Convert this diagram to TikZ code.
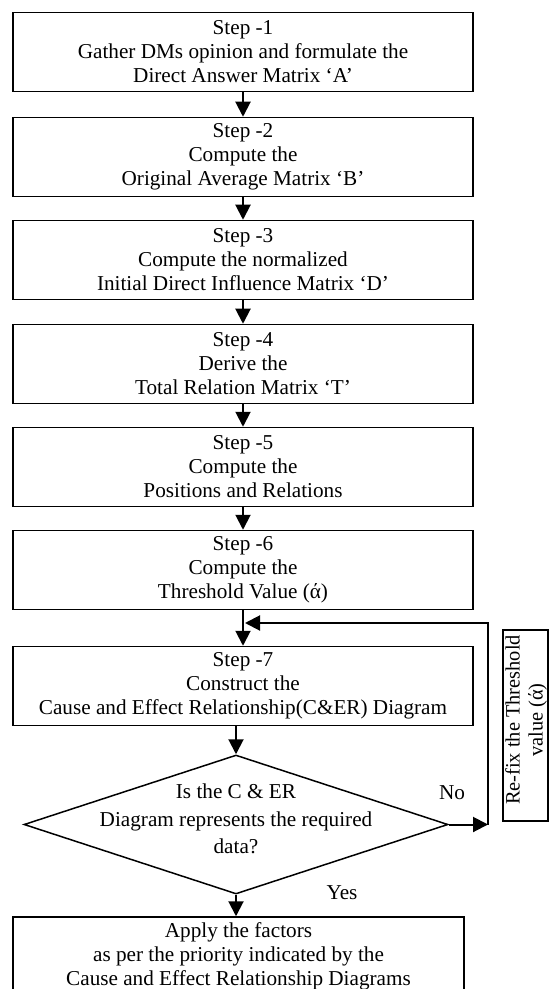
\documentclass[tikz,border=0pt]{standalone}
\usepackage{fontspec}
\setmainfont{Liberation Serif}
\usetikzlibrary{shapes.geometric,arrows.meta,positioning,calc}

\begin{document}
\begin{tikzpicture}[x=0.5pt, y=-0.5pt,
    stepbox/.style={rectangle, draw, line width=0.75pt, minimum width=230pt,
        minimum height=39.5pt, align=center, inner sep=1pt,
        font=\fontsize{10.6}{12}\selectfont},
    decision/.style={diamond, draw, line width=0.75pt, minimum width=212pt,
        minimum height=69.5pt, inner sep=0pt},
    sidebox/.style={rectangle, draw, line width=0.75pt, minimum width=22.5pt,
        minimum height=95.5pt, inner sep=0pt},
    txt/.style={align=center, inner sep=0pt, font=\fontsize{10.6}{13.75}\selectfont},
    arr/.style={-{Triangle[length=7.5pt, width=7.5pt]}, line width=1pt}
]
    \useasboundingbox (0,0) rectangle (551,989);

    \node[stepbox] (s1) at (243,52) {Step -1\\ Gather DMs opinion and formulate the\\ Direct Answer Matrix ‘A’};
    \node[stepbox] (s2) at (243,157) {Step -2\\ Compute the\\ Original Average Matrix ‘B’};
    \node[stepbox] (s3) at (243,260) {Step -3\\ Compute the normalized\\ Initial Direct Influence Matrix ‘D’};
    \node[stepbox] (s4) at (243,364) {Step -4\\ Derive the\\ Total Relation Matrix ‘T’};
    \node[stepbox] (s5) at (243,467) {Step -5\\ Compute the\\ Positions and Relations};
    \node[stepbox] (s6) at (243,570) {Step -6\\ Compute the\\ Threshold Value (ά)};
    \node[stepbox] (s7) at (243,686) {Step -7\\ Construct the\\ Cause and Effect Relationship(C\&ER) Diagram};

    \node[decision] (chk) at (236,824.5) {};
    \node[txt] (chktext) at (236,819) {Is the C \& ER\\ Diagram represents the required\\ data?};
    \node[txt] (nolbl) at (452,793) {No};
    \node[txt] (yeslbl) at (342,893) {Yes};

    \node[stepbox, minimum width=225.5pt] (apply) at (238.5,956.5) {Apply the factors\\ as per the priority indicated by the\\ Cause and Effect Relationship Diagrams};

    \node[sidebox] (refix) at (525.5,725.5) {};
    \node[txt, rotate=90, font=\fontsize{10.2}{11.5}\selectfont] (refixtext) at (526,720) {Re-fix the Threshold\\ value (ά)};

    \coordinate (loopcorner) at (488,824.5);
    \coordinate (loopin) at (245,623);

    \draw[arr] (s1) -- (s2);
    \draw[arr] (s2) -- (s3);
    \draw[arr] (s3) -- (s4);
    \draw[arr] (s4) -- (s5);
    \draw[arr] (s5) -- (s6);
    \draw[arr] (s6) -- (s7);
    \draw[arr] (chk.north |- s7.south) -- (chk.north);
    \draw[arr] (chk.south) -- (chk.south |- apply.north);

    % No: back to the threshold step
    \draw[arr] (chk.east) -- (loopcorner);
    \draw[arr] (loopcorner) |- (loopin);
\end{tikzpicture}
\end{document}
